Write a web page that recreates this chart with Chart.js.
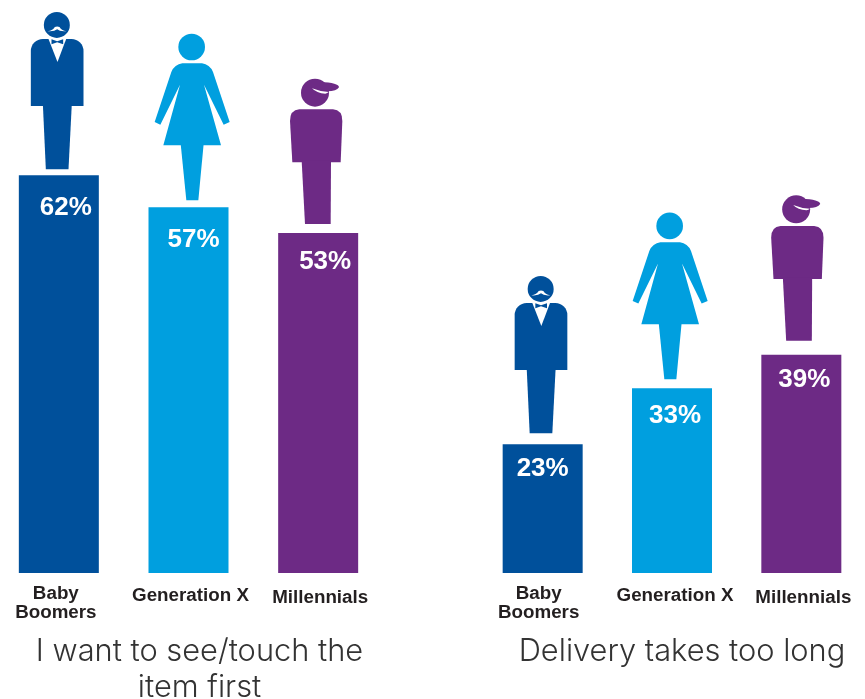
<!DOCTYPE html>
<html>
<head>
<meta charset="utf-8">
<script src="https://cdn.jsdelivr.net/npm/chart.js@4"></script>
<style>
	html, body { margin: 0; padding: 0; background: #fff; overflow: hidden; width: 865px; height: 699px; }
	canvas { position: absolute; top: 0; }
	#chartTouch { left: -6px; }
	#chartDelivery { left: 478px; }
</style>
</head>
<body>
<canvas id="chartTouch" width="389" height="706"></canvas>
<canvas id="chartDelivery" width="388" height="706"></canvas>
<script>
const categorias = [["Baby", "Boomers"], "Generation X", "Millennials"];
const valoresTouch = [62, 57, 53];
const valoresDelivery = [23, 33, 39];
const tituloTouch = ["I want to see/touch the", "item first"];
const tituloDelivery = "Delivery takes too long";
const maxTouch = 89;
const maxDelivery = 102;

const AZUL = "#00509b";
const CIANO = "#009fdf";
const ROXO = "#6d2a85";
const coresBarras = [AZUL, CIANO, ROXO];

function poligono(ctx, pts) {
	ctx.beginPath();
	ctx.moveTo(pts[0][0], pts[0][1]);
	for (let i = 1; i < pts.length; i++) ctx.lineTo(pts[i][0], pts[i][1]);
	ctx.closePath();
	ctx.fill();
}

function circulo(ctx, x, y, r) {
	ctx.beginPath();
	ctx.arc(x, y, r, 0, Math.PI * 2);
	ctx.fill();
}

// the icons are traced in 3x coordinates, the feet are at (0, 0)
function desenharHomem(ctx) {
	ctx.translate(-172.5, -509);
	ctx.fillStyle = AZUL;
	circulo(ctx, 171, 76, 39);
	ctx.beginPath();
	ctx.roundRect(93, 118, 158, 201, [36, 36, 0, 0]);
	ctx.fill();
	poligono(ctx, [[129, 312], [216, 312], [206, 509], [138, 509]]);
	ctx.fillStyle = "#fff";
	poligono(ctx, [[146, 118], [199, 118], [173, 187]]);
	ctx.fillStyle = AZUL;
	poligono(ctx, [[155, 119], [172, 125], [190, 119], [190, 134], [172, 128], [155, 134]]);
	ctx.fillStyle = "#fff";
	ctx.beginPath();
	ctx.moveTo(143, 95);
	ctx.quadraticCurveTo(160, 92, 165, 82);
	ctx.quadraticCurveTo(172, 80, 179, 82);
	ctx.quadraticCurveTo(184, 92, 200, 95);
	ctx.quadraticCurveTo(180, 97, 172, 89);
	ctx.quadraticCurveTo(163, 97, 143, 95);
	ctx.fill();
}

function desenharMulher(ctx) {
	ctx.translate(-577, -600);
	ctx.fillStyle = CIANO;
	circulo(ctx, 576, 140, 40);
	ctx.beginPath();
	ctx.moveTo(548, 189);
	ctx.lineTo(607, 189);
	ctx.quadraticCurveTo(630, 192, 640, 215);
	ctx.lineTo(690, 365);
	ctx.lineTo(672, 373);
	ctx.lineTo(613, 253);
	ctx.lineTo(664, 435);
	ctx.lineTo(491, 435);
	ctx.lineTo(541, 253);
	ctx.lineTo(482, 373);
	ctx.lineTo(465, 365);
	ctx.lineTo(515, 215);
	ctx.quadraticCurveTo(525, 192, 548, 189);
	ctx.fill();
	poligono(ctx, [[543, 430], [612, 430], [596, 600], [560, 600]]);
}

function desenharJovem(ctx) {
	ctx.translate(-138.5, -494);
	ctx.fillStyle = ROXO;
	circulo(ctx, 135, 100, 42);
	ctx.beginPath();
	ctx.moveTo(150, 68);
	ctx.quadraticCurveTo(207, 70, 207, 84);
	ctx.quadraticCurveTo(200, 96, 172, 96);
	ctx.lineTo(150, 90);
	ctx.fill();
	ctx.beginPath();
	ctx.moveTo(88, 150);
	ctx.lineTo(189, 150);
	ctx.quadraticCurveTo(217, 152, 217, 185);
	ctx.lineTo(212, 309);
	ctx.lineTo(67, 309);
	ctx.lineTo(60, 185);
	ctx.quadraticCurveTo(60, 152, 88, 150);
	ctx.fill();
	poligono(ctx, [[95, 304], [183, 304], [182, 494], [105, 494]]);
	ctx.fillStyle = "#fff";
	ctx.beginPath();
	ctx.moveTo(126, 87);
	ctx.quadraticCurveTo(150, 97, 176, 98);
	ctx.quadraticCurveTo(172, 102, 166, 103);
	ctx.quadraticCurveTo(140, 102, 126, 87);
	ctx.fill();
}

const figuras = [desenharHomem, desenharMulher, desenharJovem];

function criarGrafico(id, valores, yMax, titulo, ajuste) {
	// icons and percent labels hang off each bar, so they follow the scale
	const marcas = {
		id: "marcas",
		afterLayout(chart) {
			chart.titleBlock.left += ajuste.titulo;
			chart.titleBlock.right += ajuste.titulo;
			chart.scales.x.getLabelItems(chart.chartArea).forEach(function(item, i) {
				item.options.translation[0] += ajuste.tickX[i];
				item.options.translation[1] += ajuste.tickY[i];
			});
		},
		afterDraw(chart) {
			const ctx = chart.ctx;
			chart.getDatasetMeta(0).data.forEach(function(barra, i) {
				ctx.save();
				ctx.translate(barra.x + ajuste.figX[i], barra.y - ajuste.figGap[i]);
				ctx.scale(1 / 3, 1 / 3);
				figuras[i](ctx);
				ctx.restore();

				ctx.save();
				ctx.fillStyle = "#fff";
				ctx.font = "bold 26px 'Liberation Sans'";
				ctx.textAlign = "center";
				ctx.textBaseline = "middle";
				ctx.fillText(valores[i] + "%", barra.x + ajuste.rotX[i], barra.y + ajuste.rotY[i]);
				ctx.restore();
			});
		}
	};

	return new Chart(id, {
		type: "bar",
		data: {
			labels: categorias,
			datasets: [{
				data: valores,
				backgroundColor: coresBarras,
				borderWidth: 0,
				inflateAmount: 0,
				barThickness: 80
			}]
		},
		options: {
			responsive: false,
			animation: false,
			layout: { padding: { top: 2 } },
			plugins: {
				legend: { display: false },
				tooltip: { enabled: false },
				title: {
					display: true,
					position: "bottom",
					text: titulo,
					color: "#333333",
					font: { family: "Inter", size: 30.8, weight: "300", lineHeight: 36 / 30.8 },
					padding: ajuste.tituloPad
				}
			},
			scales: {
				x: {
					afterFit(scale) { scale.height = 48; },
					grid: { display: false, drawTicks: false },
					border: { display: false },
					ticks: {
						color: "#231f20",
						font: { family: "'Liberation Sans'", size: 18.8, weight: "bold", lineHeight: 19 / 18.8 },
						padding: 11,
						autoSkip: false,
						maxRotation: 0
					}
				},
				y: { display: false, min: 0, max: yMax }
			}
		},
		plugins: [marcas]
	});
}

window.addEventListener("load", function() {
	criarGrafico("chartTouch", valoresTouch, maxTouch, tituloTouch, {
		titulo: 11,
		tituloPad: { top: 13, bottom: 0 },
		tickX: [-3, 2, 2],
		tickY: [0, 2, 4],
		figX: [-1.5, 3.5, -2],
		figGap: [6, 7, 9],
		rotX: [7, 5, 7],
		rotY: [33, 33, 29]
	});
	criarGrafico("chartDelivery", valoresDelivery, maxDelivery, tituloDelivery, {
		titulo: 10,
		tituloPad: { top: 13, bottom: 36 },
		tickX: [-4, 3, 2],
		tickY: [0, 2, 4],
		figX: [-1.5, -2, -4],
		figGap: [11, 9, 14],
		rotX: [0, 3, 3],
		rotY: [25, 28, 25]
	});
});
</script>
</body>
</html>
